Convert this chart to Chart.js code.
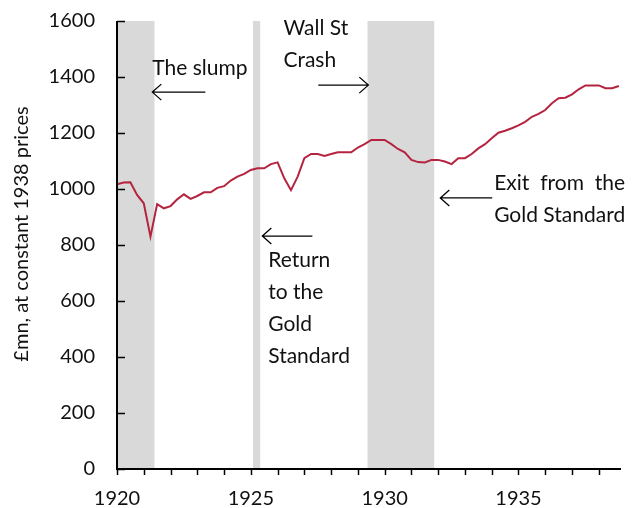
<!DOCTYPE html>
<html>
<head>
  <meta charset="utf-8">
  <title>UK output 1920-1938</title>
  <style>
    body { margin: 0; background: #ffffff; }
    .chart-box { position: relative; width: 642px; height: 508px; }
  </style>
  <script src="https://cdn.jsdelivr.net/npm/chart.js"></script>
</head>
<body>
  <div class="chart-box">
    <canvas id="chartCanvas"></canvas>
  </div>

  <script>
    // Quarterly series, first point is 1920 Q1
    var startYear = 1920;
    var outputValues = [
      1017, 1023, 1024, 979,
      949, 830, 946, 931,
      939, 963, 981, 965,
      975, 988, 988, 1004,
      1010, 1030, 1044, 1054,
      1068, 1074, 1074, 1089,
      1095, 1038, 996, 1044,
      1110, 1125, 1125, 1118,
      1125, 1131, 1131, 1131,
      1148, 1160, 1175, 1175,
      1175, 1160, 1143, 1131,
      1104, 1096, 1095, 1104,
      1104, 1098, 1089, 1110,
      1110, 1125, 1145, 1160,
      1181, 1201, 1208, 1217,
      1227, 1240, 1258, 1268,
      1282, 1306, 1324, 1326,
      1338, 1356, 1370, 1370,
      1370, 1360, 1360, 1368
    ];

    // Shaded episodes [from, to] in years
    var shadedPeriods = [[1920.0, 1921.4], [1925.08, 1925.35], [1929.36, 1931.85]];

    // Axis tick values
    var yearTicks = [];
    for (var yr = 1920; yr <= 1938; yr++) yearTicks.push(yr);
    var labelledYears = [1920, 1925, 1930, 1935];
    var valueTicks = [0, 200, 400, 600, 800, 1000, 1200, 1400, 1600];
    var yTitle = '£mn, at constant 1938 prices';

    // Annotations: text lines with anchor in data units, arrows from -> to
    var noteTexts = [
      { lines: ['The slump'], x: 1921.32, y: 1432 },
      { lines: ['Wall St', 'Crash'], x: 1926.22, y: 1575 },
      { lines: ['Exit  from  the', 'Gold Standard'], x: 1934.09, y: 1021, justify: true },
      { lines: ['Return', 'to the', 'Gold', 'Standard'], x: 1925.65, y: 746 }
    ];
    var noteArrows = [
      { from: [1923.3, 1346], to: [1921.32, 1346] },
      { from: [1927.52, 1371], to: [1929.39, 1371] },
      { from: [1934.02, 968], to: [1932.08, 968] },
      { from: [1927.3, 832], to: [1925.43, 832] }
    ];

    var points = outputValues.map(function(v, i) {
      return { x: startYear + i / 4, y: v };
    });

    var fontFamily = 'Lato, "Open Sans", sans-serif';

    // Grey bands behind the line
    var bandsPlugin = {
      id: 'bands',
      beforeDatasetsDraw: function(chart) {
        var ctx = chart.ctx, xs = chart.scales.x, area = chart.chartArea;
        ctx.save();
        ctx.fillStyle = '#d9d9d9';
        shadedPeriods.forEach(function(p) {
          var x1 = xs.getPixelForValue(p[0]);
          var x2 = xs.getPixelForValue(p[1]);
          ctx.fillRect(x1, area.top, x2 - x1, area.bottom - area.top);
        });
        ctx.restore();
      }
    };

    // Axis lines, inward y ticks, y title, notes and arrows
    var overlayPlugin = {
      id: 'overlay',
      afterDraw: function(chart) {
        var ctx = chart.ctx, xs = chart.scales.x, ys = chart.scales.y, area = chart.chartArea;
        ctx.save();
        ctx.strokeStyle = '#000';
        ctx.lineWidth = 2;
        ctx.beginPath();
        ctx.moveTo(area.left, area.top);
        ctx.lineTo(area.left, area.bottom);
        ctx.lineTo(area.right, area.bottom);
        ctx.stroke();

        ctx.lineWidth = 1.5;
        valueTicks.forEach(function(v) {
          var py = Math.round(ys.getPixelForValue(v)) + 0.5;
          ctx.beginPath();
          ctx.moveTo(area.left, py);
          ctx.lineTo(area.left + 8, py);
          ctx.stroke();
        });
        yearTicks.forEach(function(v) {
          var px = Math.round(xs.getPixelForValue(v)) + 0.5;
          ctx.beginPath();
          ctx.moveTo(px, area.bottom);
          ctx.lineTo(px, area.bottom + 6);
          ctx.stroke();
        });

        ctx.fillStyle = '#111';
        ctx.textBaseline = 'middle';

        // rotated y title
        ctx.save();
        ctx.font = '20px ' + fontFamily;
        ctx.translate(22, 234);
        ctx.rotate(-Math.PI / 2);
        ctx.textAlign = 'center';
        ctx.fillText(yTitle, 0, 0);
        ctx.restore();

        ctx.font = '21px ' + fontFamily;
        ctx.textAlign = 'left';
        noteTexts.forEach(function(n) {
          var px = xs.getPixelForValue(n.x);
          var py = ys.getPixelForValue(n.y);
          var width = Math.max.apply(null, n.lines.map(function(l) { return ctx.measureText(l).width; }));
          n.lines.forEach(function(line, i) {
            var ly = py + i * 32;
            if (n.justify && i === 0) {
              var words = line.split(/\s+/);
              var wsum = words.reduce(function(s, w) { return s + ctx.measureText(w).width; }, 0);
              var gap = (width - wsum) / (words.length - 1);
              var cx = px;
              words.forEach(function(w) {
                ctx.fillText(w, cx, ly);
                cx += ctx.measureText(w).width + gap;
              });
            } else {
              ctx.fillText(line, px, ly);
            }
          });
        });

        ctx.lineWidth = 1.3;
        noteArrows.forEach(function(a) {
          var x1 = xs.getPixelForValue(a.from[0]), y1 = ys.getPixelForValue(a.from[1]);
          var x2 = xs.getPixelForValue(a.to[0]), y2 = ys.getPixelForValue(a.to[1]);
          var dir = x2 > x1 ? 1 : -1;
          ctx.beginPath();
          ctx.moveTo(x1, y1);
          ctx.lineTo(x2, y2);
          ctx.moveTo(x2 - dir * 9, y2 - 8);
          ctx.lineTo(x2, y2);
          ctx.lineTo(x2 - dir * 9, y2 + 8);
          ctx.stroke();
        });
        ctx.restore();
      }
    };

    var ctx = document.getElementById('chartCanvas').getContext('2d');
    var outputChart = new Chart(ctx, {
      type: 'line',
      data: {
        datasets: [{
          data: points,
          borderColor: '#b5243f',
          borderWidth: 2,
          pointRadius: 0,
          tension: 0,
          fill: false
        }]
      },
      options: {
        responsive: true,
        maintainAspectRatio: false,
        animation: false,
        layout: { padding: { top: 21, right: 21, left: 0, bottom: 0 } },
        plugins: {
          legend: { display: false },
          tooltip: { enabled: false }
        },
        scales: {
          x: {
            type: 'linear',
            min: 1920,
            max: 1938.83,
            border: { display: false },
            grid: { display: false },
            afterBuildTicks: function(scale) {
              scale.ticks = yearTicks.map(function(v) { return { value: v }; });
            },
            afterFit: function(scale) {
              scale.height = 39;
              scale.paddingLeft = 0;
              scale.paddingRight = 0;
            },
            ticks: {
              autoSkip: false,
              maxRotation: 0,
              padding: 10,
              color: '#111',
              font: { family: fontFamily, size: 20 },
              callback: function(v) { return labelledYears.indexOf(v) >= 0 ? String(v) : ''; }
            }
          },
          y: {
            min: 0,
            max: 1600,
            border: { display: false },
            grid: { display: false },
            afterBuildTicks: function(scale) {
              scale.ticks = valueTicks.map(function(v) { return { value: v }; });
            },
            afterFit: function(scale) {
              scale.width = 117;
              scale.paddingTop = 0;
              scale.paddingBottom = 0;
            },
            ticks: {
              padding: 14,
              color: '#111',
              font: { family: fontFamily, size: 20 },
              callback: function(v) { return String(v); }
            }
          }
        }
      },
      plugins: [bandsPlugin, overlayPlugin]
    });
  </script>
</body>
</html>
